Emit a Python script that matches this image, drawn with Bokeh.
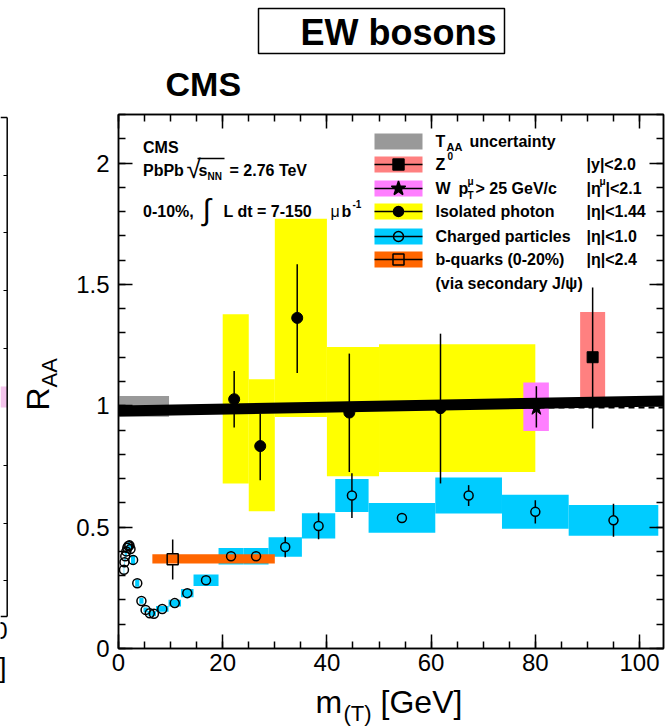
import numpy as np
from bokeh.plotting import figure
from bokeh.models import Range1d, LinearAxis, SingleIntervalTicker, CustomJSTickFormatter, Label
from bokeh.layouts import row
from bokeh.embed import file_html
from bokeh.resources import INLINE

# ------------------------------------------------------------------ data
x_max = 104.6
y_max = 2.2

# Charged particles |eta|<1.0 (open circles, cyan syst. boxes)
ch_x = [1.05, 1.15, 1.3, 1.5, 1.7, 1.9, 2.1, 2.3, 2.8, 3.6, 4.4, 5.2, 6.0, 6.8, 8.4,
        10.8, 13.2, 16.8, 21.6, 26.4, 32.0, 38.4, 44.8, 54.4, 67.2, 80.0, 95.0]
ch_y = [0.324, 0.355, 0.38, 0.40, 0.415, 0.422, 0.425, 0.41, 0.365, 0.269, 0.196, 0.159,
        0.145, 0.143, 0.163, 0.187, 0.228, 0.281, 0.38, 0.38, 0.418, 0.505, 0.63, 0.538,
        0.63, 0.563, 0.528]
ch_bin_lo = [1.0, 1.1, 1.2, 1.4, 1.6, 1.8, 2.0, 2.2, 2.4, 3.2, 4.0, 4.8, 5.6, 6.4, 7.2,
             9.6, 12.0, 14.4, 19.2, 24.0, 28.8, 35.2, 41.6, 48.0, 60.8, 73.6, 86.4]
ch_bin_hi = [1.1, 1.2, 1.4, 1.6, 1.8, 2.0, 2.2, 2.4, 3.2, 4.0, 4.8, 5.6, 6.4, 7.2, 9.6,
             12.0, 14.4, 19.2, 24.0, 28.8, 35.2, 41.6, 48.0, 60.8, 73.6, 86.4, 103.6]
ch_sys = [0.02, 0.02, 0.02, 0.02, 0.02, 0.02, 0.02, 0.02, 0.02, 0.015, 0.012, 0.01, 0.01,
          0.01, 0.012, 0.014, 0.017, 0.024, 0.034, 0.034, 0.04, 0.052, 0.068, 0.061,
          0.074, 0.07, 0.063]
ch_stat = [0.005, 0.005, 0.005, 0.005, 0.005, 0.005, 0.005, 0.005, 0.005, 0.005, 0.005,
           0.005, 0.005, 0.005, 0.005, 0.006, 0.008, 0.01, 0.012, 0.015, 0.042, 0.055,
           0.092, 0.018, 0.043, 0.048, 0.068]

# Isolated photons |eta|<1.44
ph_x = [22.2, 27.2, 34.3, 44.3, 61.8]
ph_y = [1.027, 0.834, 1.362, 0.972, 0.99]
ph_stat_lo = [0.910, 0.693, 1.135, 0.727, 0.68]
ph_stat_hi = [1.143, 0.968, 1.583, 1.215, 1.297]
ph_bin_lo = [20, 25, 30, 40, 50]
ph_bin_hi = [25, 30, 40, 50, 80]
ph_sys_lo = [0.68, 0.565, 0.954, 0.71, 0.727]
ph_sys_hi = [1.377, 1.109, 1.771, 1.242, 1.253]

# W bosons
w_x = [80.2]
w_y = [0.99]
w_stat_lo = [0.91]
w_stat_hi = [1.08]
w_bin_lo = [77.7]
w_bin_hi = [82.6]
w_sys_lo = [0.896]
w_sys_hi = [1.096]

# Z bosons
z_x = [91.0]
z_y = [1.2]
z_stat_lo = [0.906]
z_stat_hi = [1.487]
z_bin_lo = [88.6]
z_bin_hi = [93.4]
z_sys_lo = [1.034]
z_sys_hi = [1.386]

# b-quarks via secondary J/psi
b_x = [10.4]
b_y = [0.368]
b_stat_lo = [0.284]
b_stat_hi = [0.449]
b_bin_lo = [6.5]
b_bin_hi = [30.0]
b_sys_lo = [0.35]
b_sys_hi = [0.388]

# T_AA uncertainty box
taa_x = [0.0, 9.7]
taa_y = [0.955, 1.04]

# thick black line and dashed reference line
fit_x = [0.0, 104.6]
fit_y = [0.978, 1.02]
ref_x = [0.0, 104.6]
ref_y = [0.993, 0.993]

# ------------------------------------------------------------------ colours / fonts
C_CYAN = "#00ccff"
C_YEL = "#ffff00"
C_PINK = "#ff7fff"
C_RED = "#ff8080"
C_ORG = "#ff6600"
C_GREY = "#999999"
FONT = "Liberation Sans"

# ------------------------------------------------------------------ geometry (page pixels)
W, H = 669, 728
STRIP = 10
FL, FR, FT, FB = 118, 663, 114, 648
KB = 0.4  # label anchor sits this many ems above the text baseline


def dx(X):
    return (X - FL) * x_max / (FR - FL)


def dy(Y):
    return (FB - Y) * y_max / (FB - FT)


def lab(fig, x, y, text, size, bold=True, align="left", angle=0.0, convx=True,
        place=None, **kw):
    # x, y: left end of the text baseline in page pixels
    if angle == 0.0:
        y = y - KB * size
    else:
        x = x - KB * size
    lb = Label(x=dx(x) if convx else x, y=dy(y), text=text,
               text_font=FONT, text_font_size=f"{size}px",
               text_font_style="bold" if bold else "normal",
               text_align=align, text_baseline="alphabetic", angle=angle,
               text_color="black", **kw)
    if place is None:
        fig.add_layout(lb)
    else:
        fig.add_layout(lb, place)


# ------------------------------------------------------------------ main figure
p = figure(width=W - STRIP, height=H, x_range=Range1d(0, x_max), y_range=Range1d(0, y_max),
           output_backend="svg", toolbar_location=None, title=None,
           min_border_left=FL - STRIP, min_border_right=W - FR,
           min_border_top=FT, min_border_bottom=H - FB,
           background_fill_color="white", border_fill_color="white",
           outline_line_color="black", outline_line_width=1.5)
p.grid.visible = False
ax_b = p.below[0]
ax_l = p.left[0]

ax_b.ticker = SingleIntervalTicker(interval=20, num_minor_ticks=4)
ax_l.ticker = SingleIntervalTicker(interval=0.5, num_minor_ticks=5)
ax_l.formatter = CustomJSTickFormatter(code="return Number(tick.toFixed(1)).toString();")

ax_r = LinearAxis(ticker=SingleIntervalTicker(interval=0.5, num_minor_ticks=5),
                  formatter=CustomJSTickFormatter(code="return '';"))
ax_t = LinearAxis(ticker=SingleIntervalTicker(interval=20, num_minor_ticks=4),
                  formatter=CustomJSTickFormatter(code="return '';"))
p.add_layout(ax_r, "right")
p.add_layout(ax_t, "above")

for ax in [ax_b, ax_l, ax_r, ax_t]:
    ax.axis_line_width = 1.5
    ax.axis_line_color = "black"
    ax.major_tick_in = 14
    ax.major_tick_out = 0
    ax.minor_tick_in = 7
    ax.minor_tick_out = 0
    ax.major_tick_line_width = 1.5
    ax.minor_tick_line_width = 1.5
    ax.major_label_text_font = FONT
    ax.major_label_text_font_size = "24px"
    ax.major_label_text_color = "black"
    ax.axis_label = None
for ax in [ax_r, ax_t]:
    ax.major_label_text_font_size = "1px"
    ax.major_label_standoff = 0
ax_b.major_label_standoff = 5
ax_l.major_label_standoff = 9

# boxes
p.quad(left=[taa_x[0]], right=[taa_x[1]], bottom=[taa_y[0]], top=[taa_y[1]],
       fill_color=C_GREY, line_color=None)
p.quad(left=ph_bin_lo, right=ph_bin_hi, bottom=ph_sys_lo, top=ph_sys_hi,
       fill_color=C_YEL, line_color=None)
p.quad(left=w_bin_lo, right=w_bin_hi, bottom=w_sys_lo, top=w_sys_hi,
       fill_color=C_PINK, line_color=None)
p.quad(left=z_bin_lo, right=z_bin_hi, bottom=z_sys_lo, top=z_sys_hi,
       fill_color=C_RED, line_color=None)
chy = np.array(ch_y)
chs = np.array(ch_sys)
p.quad(left=ch_bin_lo, right=ch_bin_hi, bottom=chy - chs, top=chy + chs,
       fill_color=C_CYAN, line_color=None)
p.quad(left=b_bin_lo, right=b_bin_hi, bottom=b_sys_lo, top=b_sys_hi,
       fill_color=C_ORG, line_color=None)

# lines
p.line(ref_x, ref_y, line_width=2, line_dash="6 4", color="black")
p.line(fit_x, fit_y, line_width=11, color="black")

# error bars (stopped at the edge of open markers)
unit = y_max / (FB - FT)  # data units per vertical pixel
r_c = 4.5 * unit
chx = np.array(ch_x)
cst = np.array(ch_stat)
m = cst > r_c
p.segment(x0=chx[m], y0=chy[m] + r_c, x1=chx[m], y1=chy[m] + cst[m], color="black", line_width=1.5)
p.segment(x0=chx[m], y0=chy[m] - r_c, x1=chx[m], y1=chy[m] - cst[m], color="black", line_width=1.5)
p.segment(x0=ph_x, y0=ph_stat_lo, x1=ph_x, y1=ph_stat_hi, color="black", line_width=1.5)
p.segment(x0=w_x, y0=w_stat_lo, x1=w_x, y1=w_stat_hi, color="black", line_width=1.5)
p.segment(x0=z_x, y0=z_stat_lo, x1=z_x, y1=z_stat_hi, color="black", line_width=1.5)
r_s = 5.5 * unit
p.segment(x0=b_x, y0=[b_y[0] + r_s], x1=b_x, y1=b_stat_hi, color="black", line_width=1.5)
p.segment(x0=b_x, y0=[b_y[0] - r_s], x1=b_x, y1=b_stat_lo, color="black", line_width=1.5)

# markers
p.scatter(ch_x, ch_y, marker="circle", size=9, fill_color=None, line_color="black", line_width=1.5)
p.scatter(ph_x, ph_y, marker="circle", size=11, fill_color="black", line_color="black")
p.scatter(w_x, w_y, marker="star", size=15, fill_color="black", line_color="black")
p.scatter(z_x, z_y, marker="square", size=11, fill_color="black", line_color="black")
p.scatter(b_x, b_y, marker="square", size=11, fill_color=None, line_color="black", line_width=1.5)

# ------------------------------------------------------------------ legend (drawn by hand)
leg_rows = [
    (141, C_GREY, None, None),
    (164, C_RED, "square", "black"),
    (188, C_PINK, "star", "black"),
    (211, C_YEL, "circle", "black"),
    (236, C_CYAN, "circle", None),
    (259, C_ORG, "square", None),
]
for yc, col, mk, mfill in leg_rows:
    p.quad(left=[dx(374)], right=[dx(422)], bottom=[dy(yc + 8)], top=[dy(yc - 8)],
           fill_color=col, line_color=None)
    if mk is not None:
        p.segment(x0=[dx(374)], y0=[dy(yc)], x1=[dx(422)], y1=[dy(yc)], color="black", line_width=1.5)
        size = {"square": 11, "star": 15, "circle": 10}[mk]
        p.scatter([dx(398)], [dy(yc)], marker=mk, size=size, fill_color=mfill,
                  line_color="black", line_width=1.5)

# sqrt overbar
p.segment(x0=[dx(197)], y0=[dy(158)], x1=[dx(224)], y1=[dy(158)], color="black", line_width=1.5)

# left text block
lab(p, 142.5, 153, "CMS", 16)
lab(p, 142.5, 176, "PbPb", 16)
lab(p, 186, 179, "\u221a", 26, bold=False)
lab(p, 198, 176, "s", 16)
lab(p, 207, 180, "NN", 10)
lab(p, 229, 176, "= 2.76 TeV", 16)
lab(p, 142.5, 217, "0-10%,", 16)
lab(p, 202, 221, "\u222b", 30, bold=False)
lab(p, 223, 217, "L dt = 7-150", 16)
lab(p, 330, 217, "\u03bc", 16, bold=False)
lab(p, 341, 217, "b", 16)
lab(p, 352, 207, "-1", 10)

# legend texts
lab(p, 435, 147, "T", 16)
lab(p, 446, 151, "AA", 11)
lab(p, 469, 147, "uncertainty", 16)
lab(p, 435, 170, "Z", 16)
lab(p, 447, 159, "0", 10)
lab(p, 435, 194, "W", 16)
lab(p, 458, 194, "p", 16)
lab(p, 467, 185, "\u03bc", 10)
lab(p, 467, 199, "T", 10)
lab(p, 475, 194, "> 25 GeV/c", 16)
lab(p, 435, 217, "Isolated photon", 16)
lab(p, 435, 242, "Charged particles", 16)
lab(p, 435, 265, "b-quarks (0-20%)", 16)
lab(p, 435, 289, "(via secondary J/\u03c8)", 16)
lab(p, 586, 170, "|y|<2.0", 16)
lab(p, 586, 194, "|\u03b7", 16)
lab(p, 599, 185, "\u03bc", 10)
lab(p, 605, 194, "|<2.1", 16)
lab(p, 586, 217, "|\u03b7|<1.44", 16)
lab(p, 586, 242, "|\u03b7|<1.0", 16)
lab(p, 586, 265, "|\u03b7|<2.4", 16)

# texts outside the frame live in the side panels (not clipped)
lab(p, 50, 410, "R", 32, bold=False, angle=np.pi / 2, place="left")
lab(p, 58, 387, "AA", 22, bold=False, angle=np.pi / 2, place="left")
lab(p, 315, 714, "m\u2003\u2009[GeV]", 32, bold=False, place="below")
lab(p, 343, 722, "(T)", 22, bold=False, place="above")
lab(p, 258, 45, "EW bosons", 36, border_line_color="black", border_line_width=1.5,
    background_fill_color="white", padding=(42, 8, 3, 1), place="above")
lab(p, 165, 97, "CMS", 34, place="above")

# ------------------------------------------------------------------ cut-off neighbour panel at the left edge
pl = figure(width=STRIP, height=H, x_range=Range1d(0, STRIP), y_range=Range1d(0, y_max),
            output_backend="svg", toolbar_location=None, min_border=0, title=None,
            x_axis_type=None, y_axis_type=None, outline_line_color=None,
            background_fill_color="white", border_fill_color="white")
pl.quad(left=[0], right=[6.7], top=[dy(386)], bottom=[dy(407)], fill_color="#f4c4ec", line_color=None)
pl.segment(x0=[0, 6.7, 0], y0=[dy(117), dy(117), dy(616)], x1=[6.7, 6.7, 6.7],
           y1=[dy(117), dy(616), dy(616)], color="black", line_width=1.5)
tk = [dy(v) for v in (175, 232, 290, 348, 465, 523, 580)]
pl.segment(x0=[3.0] * len(tk), y0=tk, x1=[6.7] * len(tk), y1=tk, color="black", line_width=1)
lab(pl, 7, 640, "0", 24, bold=False, align="right", convx=False)
lab(pl, 6, 678, "]", 28, bold=False, align="right", convx=False, place="below")

layout = row(pl, p)
open("out.html", "w").write(file_html(layout, INLINE, title="RAA"))
